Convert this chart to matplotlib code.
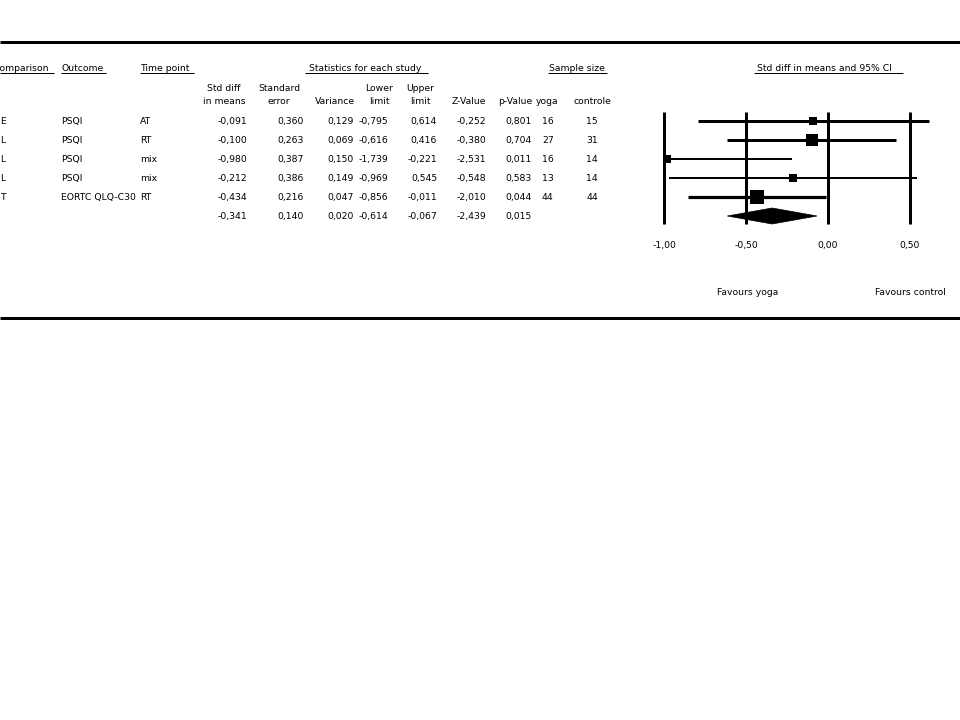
import numpy as np
import matplotlib.pyplot as plt
from matplotlib.patches import Polygon

# study rows (comparison column is cut off at the left edge of the picture)
comparison = ['E', 'L', 'L', 'L', 'T']
outcome = ['PSQI', 'PSQI', 'PSQI', 'PSQI', 'EORTC QLQ-C30']
time_point = ['AT', 'RT', 'mix', 'mix', 'RT']
std_diff = [-0.091, -0.100, -0.980, -0.212, -0.434]
std_err = [0.360, 0.263, 0.387, 0.386, 0.216]
variance = [0.129, 0.069, 0.150, 0.149, 0.047]
lower = [-0.795, -0.616, -1.739, -0.969, -0.856]
upper = [0.614, 0.416, -0.221, 0.545, -0.011]
z_value = [-0.252, -0.380, -2.531, -0.548, -2.010]
p_value = [0.801, 0.704, 0.011, 0.583, 0.044]
n_yoga = [16, 27, 16, 13, 44]
n_control = [15, 31, 14, 14, 44]

# pooled estimate
pooled = dict(std_diff=-0.341, std_err=0.140, variance=0.020,
              lower=-0.614, upper=-0.067, z=-2.439, p=0.015)

ticks = [-1.0, -0.5, 0.0, 0.5]

def fmt(v):
    return ('%.3f' % v).replace('.', ',')

plt.rcParams['font.family'] = ['DejaVu Sans']
FS = 6.7
PX = 0.72  # points per pixel at dpi 100
OFF = 3.3  # centre of capitals -> baseline, pixels

fig = plt.figure(figsize=(9.6, 7.2), dpi=100)
ax = fig.add_axes([0, 0, 1, 1])
ax.set_xlim(0, 960)
ax.set_ylim(720, 0)
ax.axis('off')

# heavy rules top and bottom
ax.plot([0, 960], [42, 42], color='black', lw=3 * PX, solid_capstyle='butt')
ax.plot([0, 960], [318, 318], color='black', lw=3 * PX, solid_capstyle='butt')

def txt(x, y, s, ha='left'):
    ax.text(x, y + OFF, s, ha=ha, va='baseline', fontsize=FS, color='black')

def uline(x0, x1, y=73):
    ax.plot([x0, x1], [y, y], color='black', lw=1 * PX, solid_capstyle='butt')

# group headers
txt(-7, 67.5, 'Comparison')
uline(0, 54)
txt(61, 67.5, 'Outcome')
uline(61, 106)
txt(140, 67.5, 'Time point')
uline(140, 194)
txt(309, 67.5, 'Statistics for each study')
uline(305, 428)
txt(549, 67.5, 'Sample size')
uline(548, 607)
txt(757, 67.5, 'Std diff in means and 95% CI')
uline(754, 903)

# column headers
txt(224, 88, 'Std diff', 'center')
txt(224, 100.5, 'in means', 'center')
txt(279, 88, 'Standard', 'center')
txt(279, 100.5, 'error', 'center')
txt(355, 100.5, 'Variance', 'right')
txt(379, 88, 'Lower', 'center')
txt(379, 100.5, 'limit', 'center')
txt(420, 88, 'Upper', 'center')
txt(420, 100.5, 'limit', 'center')
txt(486, 100.5, 'Z-Value', 'right')
txt(532, 100.5, 'p-Value', 'right')
txt(547, 100.5, 'yoga', 'center')
txt(592, 100.5, 'controle', 'center')

row_y = [121 + 19 * i for i in range(6)]
for i in range(len(std_diff)):
    y = row_y[i]
    txt(0, y, comparison[i])
    txt(61, y, outcome[i])
    txt(140, y, time_point[i])
    txt(247, y, fmt(std_diff[i]), 'right')
    txt(304, y, fmt(std_err[i]), 'right')
    txt(354, y, fmt(variance[i]), 'right')
    txt(388, y, fmt(lower[i]), 'right')
    txt(437, y, fmt(upper[i]), 'right')
    txt(486, y, fmt(z_value[i]), 'right')
    txt(532, y, fmt(p_value[i]), 'right')
    txt(542, y, str(n_yoga[i]))
    txt(592, y, str(n_control[i]), 'center')

y = row_y[5]
txt(247, y, fmt(pooled['std_diff']), 'right')
txt(304, y, fmt(pooled['std_err']), 'right')
txt(354, y, fmt(pooled['variance']), 'right')
txt(388, y, fmt(pooled['lower']), 'right')
txt(437, y, fmt(pooled['upper']), 'right')
txt(486, y, fmt(pooled['z']), 'right')
txt(532, y, fmt(pooled['p']), 'right')

# forest plot axes: value v -> pixel 828 + 164 * v, row i -> pixel 121 + 19 * i
x0_px, x1_px = 828 - 1.1 * 164, 828 + 1.1 * 164
y0_px, y1_px = 100, 240
fx = fig.add_axes([x0_px / 960, (720 - y1_px) / 720,
                   (x1_px - x0_px) / 960, (y1_px - y0_px) / 720])
fx.set_xlim(-1.1, 1.1)
fx.set_ylim((y1_px - 121) / 19, (y0_px - 121) / 19)
fx.axis('off')
fx.patch.set_alpha(0)

for t in ticks + [1.0]:
    fx.plot([t, t], [(112 - 121) / 19, (224 - 121) / 19], color='black',
            lw=3 * PX, solid_capstyle='butt', clip_on=False)

lo = np.clip(lower, -1, 1)
hi = np.clip(upper, -1, 1)
weights = 1 / np.array(variance)
box_px = 14 * np.sqrt(weights / weights.max())
line_px = [3, 3, 2, 2, 3.2]
for i in range(len(std_diff)):
    fx.plot([lo[i], hi[i]], [i, i], color='black', lw=line_px[i] * PX,
            solid_capstyle='butt')
    fx.plot(std_diff[i], i, marker='s', ms=box_px[i] * PX, color='black',
            mec='black', mew=0)

h = 8 / 19
diamond = Polygon([[pooled['lower'], 5], [pooled['std_diff'], 5 - h],
                   [pooled['upper'], 5], [pooled['std_diff'], 5 + h]],
                  closed=True, facecolor='black', edgecolor='black', lw=0.5)
fx.add_patch(diamond)

for t in ticks:
    fx.text(t, (245 - 121 + OFF) / 19, ('%.2f' % t).replace('.', ','),
            ha='center', va='baseline', fontsize=FS, clip_on=False)

fx.text(-0.49, (292 - 121 + OFF) / 19, 'Favours yoga', ha='center',
        va='baseline', fontsize=FS, clip_on=False)
fx.text(0.5, (292 - 121 + OFF) / 19, 'Favours control', ha='center',
        va='baseline', fontsize=FS, clip_on=False)

fig.savefig('out.png', dpi=100)
